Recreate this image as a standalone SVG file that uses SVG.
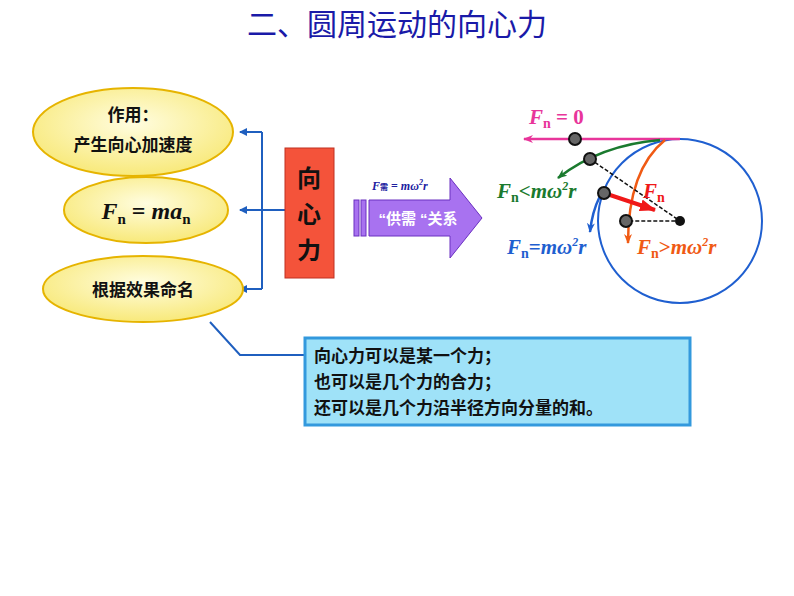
<svg xmlns="http://www.w3.org/2000/svg" width="794" height="596" viewBox="0 0 794 596">
<defs>
<radialGradient id="yg" cx="50%" cy="40%" r="60%"><stop offset="0" stop-color="#fffde0"/><stop offset="1" stop-color="#f8e97a"/></radialGradient>
<marker id="ab" markerWidth="8" markerHeight="8" refX="7" refY="4" orient="auto" markerUnits="userSpaceOnUse"><path d="M0,0 L8,4 L0,8 Z" fill="#1f5fbf"/></marker>
<marker id="pk" markerWidth="10" markerHeight="8" refX="9" refY="4" orient="auto" markerUnits="userSpaceOnUse"><path d="M0,0 L10,4 L0,8 L3,4 Z" fill="#e8359a"/></marker>
<marker id="gr" markerWidth="10" markerHeight="8" refX="9" refY="4" orient="auto" markerUnits="userSpaceOnUse"><path d="M0,0 L10,4 L0,8 L3,4 Z" fill="#1a7a2e"/></marker>
<marker id="bl" markerWidth="10" markerHeight="8" refX="9" refY="4" orient="auto" markerUnits="userSpaceOnUse"><path d="M0,0 L10,4 L0,8 L3,4 Z" fill="#1f5fd0"/></marker>
<marker id="or" markerWidth="10" markerHeight="8" refX="9" refY="4" orient="auto" markerUnits="userSpaceOnUse"><path d="M0,0 L10,4 L0,8 L3,4 Z" fill="#f05a14"/></marker>
<marker id="rd" markerWidth="16" markerHeight="12" refX="15" refY="6" orient="auto" markerUnits="userSpaceOnUse"><path d="M0,0 L16,6 L0,12 Z" fill="#f01818"/></marker>
</defs>
<style>
.el{fill:url(#yg);stroke:#e6b400;stroke-width:2}
.t{font-family:"Liberation Sans","Noto Sans CJK SC",sans-serif;font-weight:bold;fill:#111}
.m{font-family:"Liberation Serif",serif;font-weight:bold;font-style:italic}
.c{stroke:#1f5fbf;stroke-width:2;fill:none}
.dot{fill:#666;stroke:#111;stroke-width:2}
</style>
<rect width="794" height="596" fill="#fff"/>
<text x="397" y="35" text-anchor="middle" font-family="'Liberation Serif','Noto Sans CJK SC',serif" font-size="30" fill="#1a1aa8">二、圆周运动的向心力</text>
<g id="connectors">
<path class="c" d="M262,132 V289 M262,210 H285" />
<path class="c" d="M262,132 H240" marker-end="url(#ab)"/>
<path class="c" d="M262,210 H240" marker-end="url(#ab)"/>
<path class="c" d="M262,289 H240" marker-end="url(#ab)"/>
<path class="c" d="M210,322 L240,355 H305"/>
</g>
<g id="n1"><ellipse class="el" cx="133" cy="132" rx="100" ry="44"/>
<text class="t" x="133" y="121" font-size="17" text-anchor="middle">作用：</text>
<text class="t" x="133" y="151" font-size="17" text-anchor="middle">产生向心加速度</text></g>
<g id="n2"><ellipse class="el" cx="146" cy="210" rx="82" ry="33"/>
<text class="m" x="146" y="219" font-size="24" text-anchor="middle" fill="#111">F<tspan font-size="15" font-style="normal" dy="5">n</tspan><tspan dy="-5" font-style="normal"> = </tspan>ma<tspan font-size="15" font-style="normal" dy="5">n</tspan></text></g>
<g id="n3"><ellipse class="el" cx="143" cy="289" rx="100" ry="33"/>
<text class="t" x="143" y="296" font-size="17" text-anchor="middle">根据效果命名</text></g>
<g id="n4"><rect x="285" y="148" width="49" height="130" fill="#f4533a" stroke="#c03020"/>
<text class="t" x="309" y="187" font-size="24" text-anchor="middle">向</text>
<text class="t" x="309" y="223" font-size="24" text-anchor="middle">心</text>
<text class="t" x="309" y="259" font-size="24" text-anchor="middle">力</text></g>
<g id="n5">
<rect x="354" y="200" width="5" height="36" fill="#a872f0" stroke="#6a30c0"/>
<rect x="361" y="200" width="5" height="36" fill="#a872f0" stroke="#6a30c0"/>
<path d="M369,200 H450 V178 L482,218 L450,258 V236 H369 Z" fill="#a872f0" stroke="#6a30c0"/>
<text x="372" y="190" class="m" font-size="12" fill="#2020a0">F<tspan font-size="8" font-style="normal" font-family="'Noto Sans CJK SC'">需</tspan><tspan font-style="normal"> = </tspan>mω<tspan font-size="8" dy="-5">2</tspan><tspan dy="5">r</tspan></text>
<text class="t" x="418" y="224" font-size="15" text-anchor="middle" style="fill:#fff">“供需  “关系</text></g>
<g id="n6"><rect x="305" y="338" width="385" height="87" fill="#9fe2f8" stroke="#3399dd" stroke-width="3"/>
<text class="t" x="314" y="362" font-size="17">向心力可以是某一个力；</text>
<text class="t" x="314" y="388" font-size="17">也可以是几个力的合力；</text>
<text class="t" x="314" y="414" font-size="17">还可以是几个力沿半径方向分量的和。</text></g>
<g id="motion">
<circle cx="680" cy="221" r="82" fill="none" stroke="#1f5fd0" stroke-width="2"/>
<path d="M680,139 H524" stroke="#e8359a" stroke-width="2.5" marker-end="url(#pk)"/>
<path d="M660,140 Q600,145 558,178" stroke="#1a7a2e" stroke-width="2.5" fill="none" marker-end="url(#gr)"/>
<path d="M600,196 Q592,212 590,232" stroke="#1f5fd0" stroke-width="2.5" fill="none" marker-end="url(#bl)"/>
<path d="M665,140 Q628,170 628,243" stroke="#f05a14" stroke-width="2.5" fill="none" marker-end="url(#or)"/>
<path d="M590,159 L680,221 L626,221" stroke="#111" stroke-dasharray="4,2" fill="none" stroke-width="1.5"/>
<path d="M604,193 L655,210" stroke="#f01818" stroke-width="4" marker-end="url(#rd)"/>
<circle cx="680" cy="221" r="5" fill="#111"/>
<circle class="dot" cx="575" cy="139" r="6"/>
<circle class="dot" cx="590" cy="159" r="6"/>
<circle class="dot" cx="604" cy="193" r="6"/>
<circle class="dot" cx="626" cy="221" r="6"/>
<text class="m" x="529" y="124" font-size="21" fill="#e8359a">F<tspan font-size="14" font-style="normal" dy="4">n</tspan><tspan font-style="normal" dy="-4"> = 0</tspan></text>
<text class="m" x="497" y="198" font-size="21" fill="#1a7a2e">F<tspan font-size="14" font-style="normal" dy="4">n</tspan><tspan dy="-4" font-style="normal">&lt;</tspan>mω<tspan font-size="12" dy="-8">2</tspan><tspan dy="8">r</tspan></text>
<text class="m" x="643" y="198" font-size="21" fill="#f01818">F<tspan font-size="14" font-style="normal" dy="4">n</tspan></text>
<text class="m" x="507" y="254" font-size="21" fill="#1f5fd0">F<tspan font-size="14" font-style="normal" dy="4">n</tspan><tspan dy="-4" font-style="normal">=</tspan>mω<tspan font-size="12" dy="-8">2</tspan><tspan dy="8">r</tspan></text>
<text class="m" x="637" y="254" font-size="21" fill="#f05a14">F<tspan font-size="14" font-style="normal" dy="4">n</tspan><tspan dy="-4" font-style="normal">&gt;</tspan>mω<tspan font-size="12" dy="-8">2</tspan><tspan dy="8">r</tspan></text>
</g>
</svg>
